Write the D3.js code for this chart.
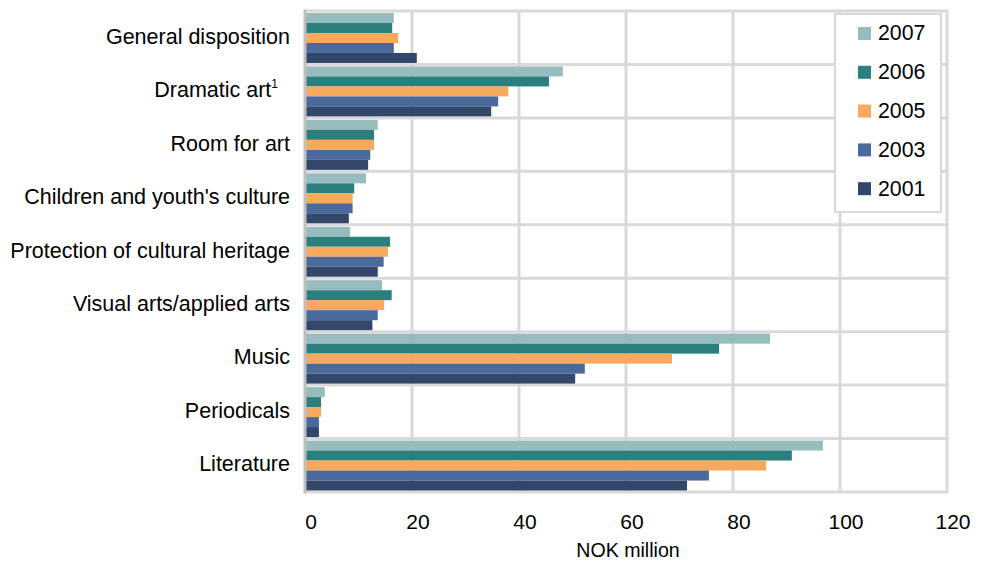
<!DOCTYPE html>
<html lang="en">
<head>
    <meta charset="UTF-8">
    <title>Grants by field, NOK million</title>
    <script src="https://d3js.org/d3.v7.min.js"></script>
    <style>
        body { margin: 0; background: #fff; }
        text { font-family: "Liberation Sans", Arial, sans-serif; fill: #000; }
    </style>
</head>
<body>
<div id="chart"></div>
<script>
// categories, top to bottom
let categories = ["General disposition", "Dramatic art¹", "Room for art", "Children and youth's culture",
    "Protection of cultural heritage", "Visual arts/applied arts", "Music", "Periodicals", "Literature"]

// series, in the order they are stacked inside each group
let years = ["2007", "2006", "2005", "2003", "2001"]
let values2007 = [16.6, 48.2, 13.6, 11.4, 8.4, 14.4, 86.9, 3.7, 96.8]
let values2006 = [16.3, 45.6, 12.9, 9.2, 15.9, 16.2, 77.4, 3.0, 91.0]
let values2005 = [17.4, 38.0, 12.9, 8.9, 15.5, 14.8, 68.6, 3.0, 86.2]
let values2003 = [16.6, 36.1, 12.2, 8.9, 14.7, 13.6, 52.3, 2.6, 75.5]
let values2001 = [20.9, 34.8, 11.8, 8.2, 13.6, 12.6, 50.5, 2.6, 71.4]
let xTicks = [0, 20, 40, 60, 80, 100, 120]

let series = [values2007, values2006, values2005, values2003, values2001]
let colors = ["#97bcbd", "#2b807f", "#f7aa5e", "#4b6a9c", "#33476a"]

let width = 983,
    height = 563
let plot = {left: 305, right: 947, top: 11, bottom: 492}

let svg = d3.select("#chart").append("svg")
    .attr("width", width)
    .attr("height", height)

let x = d3.scaleLinear().domain([0, 120]).range([plot.left, plot.right])
let y0 = d3.scaleBand().domain(categories).range([plot.top, plot.bottom]).padding(0)
let y1 = d3.scaleBand().domain(years).range([2, y0.bandwidth() - 1.5]).padding(0)
let color = d3.scaleOrdinal().domain(years).range(colors)

// vertical grid lines (behind the bars)
svg.append("g")
    .selectAll("line")
    .data(xTicks.slice(1))
    .enter().append("line")
    .attr("x1", d => x(d)).attr("x2", d => x(d))
    .attr("y1", plot.top).attr("y2", plot.bottom)
    .attr("stroke", "#d9d9d9")
    .attr("stroke-width", 3)

// horizontal lines between groups
let edges = categories.map(c => y0(c)).concat([plot.bottom])
svg.append("g")
    .selectAll("line")
    .data(edges)
    .enter().append("line")
    .attr("x1", plot.left).attr("x2", plot.right + 1.5)
    .attr("y1", d => d).attr("y2", d => d)
    .attr("stroke", "#d9d9d9")
    .attr("stroke-width", 3)

// bars
let rows = []
categories.forEach(function(c, i) {
    years.forEach(function(yr, j) {
        rows.push({cat: c, year: yr, value: series[j][i]})
    })
})

svg.append("g")
    .selectAll("rect")
    .data(rows)
    .enter().append("rect")
    .attr("x", x(0))
    .attr("y", d => y0(d.cat) + y1(d.year))
    .attr("width", d => x(d.value) - x(0))
    .attr("height", y1.bandwidth())
    .attr("fill", d => color(d.year))

// left axis line
svg.append("line")
    .attr("x1", plot.left).attr("x2", plot.left)
    .attr("y1", plot.top - 1.5).attr("y2", plot.bottom + 1.5)
    .attr("stroke", "#bfbfbf")
    .attr("stroke-width", 3)

// category labels
let labels = svg.append("g")
    .selectAll("text")
    .data(categories)
    .enter().append("text")
    .attr("x", 290)
    .attr("y", d => y0(d) + y0.bandwidth() / 2 - 1.5)
    .attr("dy", "0.35em")
    .attr("text-anchor", "end")
    .style("font-size", "21.5px")
labels.each(function(d) {
    let t = d3.select(this)
    if (d.endsWith("¹")) {
        t.append("tspan").text(d.slice(0, -1))
        t.append("tspan").text("1").style("font-size", "12px").attr("dy", "-0.8em")
        t.attr("x", 278)
    } else {
        t.text(d)
    }
})

// x tick labels
svg.append("g")
    .selectAll("text")
    .data(xTicks)
    .enter().append("text")
    .attr("x", d => x(d) + 6)
    .attr("y", 529)
    .attr("text-anchor", "middle")
    .style("font-size", "21px")
    .text(d => d)

svg.append("text")
    .attr("x", 628)
    .attr("y", 557)
    .attr("text-anchor", "middle")
    .style("font-size", "19.6px")
    .text("NOK million")

// legend
let legend = svg.append("g")
legend.append("rect")
    .attr("x", 835).attr("y", 14)
    .attr("width", 106).attr("height", 198)
    .attr("fill", "#fff")
    .attr("stroke", "#d9d9d9")
    .attr("stroke-width", 2)

let item = legend.selectAll("g")
    .data(years)
    .enter().append("g")
    .attr("transform", (d, i) => "translate(858," + (33 + i * 38.8) + ")")
item.append("rect")
    .attr("x", 0).attr("y", -6)
    .attr("width", 13).attr("height", 13)
    .attr("fill", d => color(d))
item.append("text")
    .attr("x", 20)
    .attr("dy", "0.35em")
    .style("font-size", "21.3px")
    .text(d => d)
</script>
</body>
</html>
